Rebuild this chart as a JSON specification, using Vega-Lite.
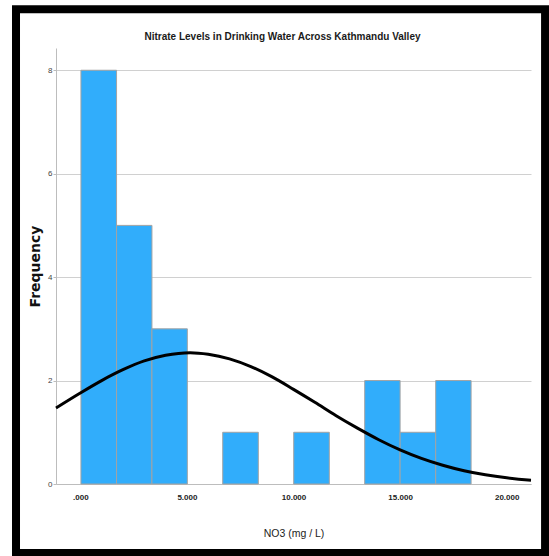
{
  "$schema": "https://vega.github.io/schema/vega-lite/v6.json",
  "autosize": {"type": "none"},
  "width": 475,
  "height": 436,
  "padding": {"left": 56, "top": 48, "right": 18, "bottom": 72},
  "background": "white",
  "title": {
    "text": "Nitrate Levels in Drinking Water Across Kathmandu Valley",
    "font": "Liberation Sans",
    "fontSize": 10,
    "fontWeight": "bold",
    "color": "#1a1a1a",
    "anchor": "middle",
    "baseline": "middle",
    "dx": -11,
    "offset": -42
  },
  "config": {
    "view": {"stroke": null},
    "axis": {"labelFont": "Liberation Sans", "titleFont": "Liberation Sans"}
  },
  "datasets": {
    "bins": [
      {"bin_start": 0.03, "bin_end": 1.70, "count": 8},
      {"bin_start": 1.70, "bin_end": 3.36, "count": 5},
      {"bin_start": 3.36, "bin_end": 5.02, "count": 3},
      {"bin_start": 6.68, "bin_end": 8.35, "count": 1},
      {"bin_start": 10.01, "bin_end": 11.68, "count": 1},
      {"bin_start": 13.34, "bin_end": 15.00, "count": 2},
      {"bin_start": 15.00, "bin_end": 16.67, "count": 1},
      {"bin_start": 16.67, "bin_end": 18.33, "count": 2}
    ],
    "curve": [
      {"no3": -1.14, "freq": 1.47},
      {"no3": 0, "freq": 1.76},
      {"no3": 1, "freq": 2.00},
      {"no3": 2, "freq": 2.21},
      {"no3": 3, "freq": 2.38},
      {"no3": 4, "freq": 2.49},
      {"no3": 5.15, "freq": 2.54},
      {"no3": 6, "freq": 2.51},
      {"no3": 7, "freq": 2.42},
      {"no3": 8, "freq": 2.27},
      {"no3": 9, "freq": 2.07},
      {"no3": 10, "freq": 1.83},
      {"no3": 11, "freq": 1.58},
      {"no3": 12, "freq": 1.32},
      {"no3": 13, "freq": 1.08},
      {"no3": 14, "freq": 0.856},
      {"no3": 15, "freq": 0.660},
      {"no3": 16, "freq": 0.495},
      {"no3": 17, "freq": 0.362},
      {"no3": 18, "freq": 0.256},
      {"no3": 19, "freq": 0.177},
      {"no3": 20, "freq": 0.119},
      {"no3": 21, "freq": 0.078},
      {"no3": 21.14, "freq": 0.074}
    ]
  },
  "layer": [
    {
      "data": {"name": "bins"},
      "mark": {"type": "rect", "color": "#31adfb", "stroke": "#a3a3a3", "strokeWidth": 1},
      "encoding": {
        "x": {
          "field": "bin_start",
          "type": "quantitative",
          "scale": {"domain": [-1.14, 21.14], "nice": false, "zero": false},
          "axis": {
            "values": [0, 5, 10, 15, 20],
            "labelExpr": "datum.value == 0 ? '.000' : format(datum.value, '.3f')",
            "grid": false,
            "domainColor": "#bdbdbd",
            "ticks": false,
            "labelPadding": 9,
            "labelFontSize": 8,
            "labelFontWeight": "bold",
            "labelColor": "#222222",
            "title": "NO3 (mg / L)",
            "titleFontSize": 10.5,
            "titleFontWeight": "normal",
            "titleColor": "#222222",
            "titlePadding": 27
          }
        },
        "x2": {"field": "bin_end"},
        "y": {
          "field": "count",
          "type": "quantitative",
          "scale": {"domain": [0, 8.43], "nice": false},
          "axis": {
            "values": [0, 2, 4, 6, 8],
            "grid": true,
            "gridColor": "#d0d0d0",
            "domainColor": "#bdbdbd",
            "tickColor": "#bdbdbd",
            "tickSize": 3,
            "labelPadding": 1,
            "labelFontSize": 8,
            "labelColor": "#444444",
            "title": "Frequency",
            "titleFont": "DejaVu Sans",
            "titleFontSize": 14,
            "titleFontWeight": "bold",
            "titleColor": "#111111",
            "titlePadding": 5
          }
        },
        "y2": {"datum": 0}
      }
    },
    {
      "data": {"name": "curve"},
      "mark": {"type": "line", "color": "black", "strokeWidth": 3, "interpolate": "monotone"},
      "encoding": {
        "x": {"field": "no3", "type": "quantitative"},
        "y": {"field": "freq", "type": "quantitative"}
      }
    },
    {
      "data": {"values": [{}]},
      "mark": {"type": "rect", "fillOpacity": 0, "stroke": "black", "strokeWidth": 8},
      "encoding": {
        "x": {"datum": -3.016, "type": "quantitative"},
        "x2": {"datum": 21.80},
        "y": {"datum": 9.18, "type": "quantitative"},
        "y2": {"datum": -1.333}
      }
    }
  ]
}
